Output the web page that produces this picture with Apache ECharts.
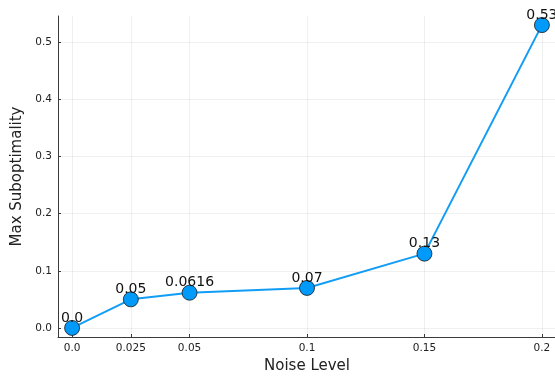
<!DOCTYPE html>
<html><head><meta charset="utf-8">
<script src="https://cdn.jsdelivr.net/npm/echarts@6/dist/echarts.min.js"></script>
<style>html,body{margin:0;padding:0;background:#fff}#c{width:555px;height:376px}</style>
</head><body><div id="c"></div>
<script>
const noiseLevels = [0, 0.025, 0.05, 0.1, 0.15, 0.2];
const maxSubopt = [0, 0.05, 0.0616, 0.07, 0.13, 0.53];
const pointLabels = ["0.0", "0.05", "0.0616", "0.07", "0.13", "0.53"];
const xTicks = [0, 0.025, 0.05, 0.1, 0.15, 0.2];
const xTickLabels = ["0.0", "0.025", "0.05", "0.1", "0.15", "0.2"];
const yTicks = [0, 0.1, 0.2, 0.3, 0.4, 0.5];
const yTickLabels = ["0.0", "0.1", "0.2", "0.3", "0.4", "0.5"];

const FONT = 'DejaVu Sans';
const chart = echarts.init(document.getElementById('c'), null, {renderer: 'canvas'});
const axisColor = '#3a3a3a';
const gridColor = 'rgba(0,0,0,0.06)';
chart.setOption({
  animation: false,
  backgroundColor: '#fff',
  grid: {left: 58, top: 16, width: 498, height: 321, containLabel: false, outerBoundsMode: 'none'},
  xAxis: {
    type: 'value', min: -0.006, max: 0.206,
    name: 'Noise Level', nameLocation: 'middle', nameGap: 22,
    nameTextStyle: {fontFamily: FONT, fontSize: 15, color: '#222'},
    axisLine: {show: true, onZero: false, lineStyle: {color: axisColor, width: 1}},
    axisTick: {show: true, inside: true, length: 3, customValues: xTicks, lineStyle: {color: axisColor}},
    axisLabel: {customValues: xTicks, fontFamily: FONT, fontSize: 10.5, color: '#222', margin: 6,
      formatter: v => xTickLabels[xTicks.findIndex(t => Math.abs(t - v) < 1e-9)] ?? String(v)},
    splitLine: {show: true, lineStyle: {color: gridColor, width: 1}}
  },
  yAxis: {
    type: 'value', min: -0.0159, max: 0.5459,
    name: 'Max Suboptimality', nameLocation: 'middle', nameGap: 33, nameRotate: 90,
    nameTextStyle: {fontFamily: FONT, fontSize: 15, color: '#222'},
    axisLine: {show: true, onZero: false, lineStyle: {color: axisColor, width: 1}},
    axisTick: {show: true, inside: true, length: 3, customValues: yTicks, lineStyle: {color: axisColor}},
    axisLabel: {customValues: yTicks, fontFamily: FONT, fontSize: 10.5, color: '#222', margin: 6,
      formatter: v => yTickLabels[yTicks.findIndex(t => Math.abs(t - v) < 1e-9)] ?? String(v)},
    splitLine: {show: true, lineStyle: {color: gridColor, width: 1}}
  },
  series: [{
    type: 'line',
    data: noiseLevels.map((x, i) => [x, maxSubopt[i]]),
    symbol: 'circle', symbolSize: 15,
    lineStyle: {color: '#129DF5', width: 2},
    itemStyle: {color: '#009AFA', borderColor: '#1a1a1a', borderWidth: 0.8},
    label: {show: true, position: 'top', distance: -5,
      formatter: p => pointLabels[p.dataIndex],
      fontFamily: FONT, fontSize: 14, color: '#111'},
    clip: false
  }]
});
</script></body></html>
